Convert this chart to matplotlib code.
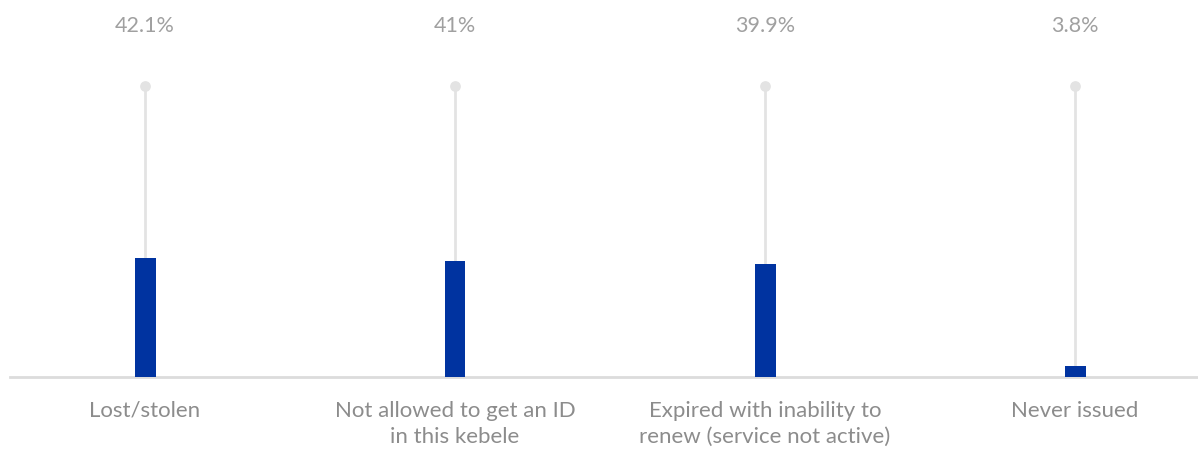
import matplotlib.pyplot as plt

plt.rcParams['font.family'] = ['Lato', 'DejaVu Sans']

categories = ['Lost/stolen', 'Not allowed to get an ID\nin this kebele',
              'Expired with inability to\nrenew (service not active)', 'Never issued']
values = [42.1, 41, 39.9, 3.8]
value_labels = ['42.1%', '41%', '39.9%', '3.8%']
stem_top = 103

fig = plt.figure(figsize=(11.98, 4.5), dpi=100)
ax = fig.add_axes([10 / 1198, (450 - 376.5) / 450, 1188 / 1198, 290.5 / 450])

x = list(range(len(categories)))
ax.vlines(x, 0, stem_top, color='#e3e3e3', lw=2, zorder=1)
ax.scatter(x, [stem_top] * len(x), s=45, color='#e3e3e3', zorder=2, clip_on=False)
ax.bar(x, values, width=21 / 310, color='#0033a0', zorder=3)

for xi, lab in zip(x, value_labels):
    ax.text(xi, 1.205, lab, transform=ax.get_xaxis_transform(), ha='center', va='center',
            fontsize=15.5, color='#a0a0a0')
for xi, cat in zip(x, categories):
    ax.text(xi, -0.083, cat, transform=ax.get_xaxis_transform(), ha='center', va='top',
            fontsize=16, color='#8c8c8c', linespacing=1.4)

ax.set_xlim(-135 / 310, 3 + 123 / 310)
ax.set_ylim(0, stem_top)
for s in ['top', 'right', 'left']:
    ax.spines[s].set_visible(False)
ax.spines['bottom'].set_color('#dcdcdc')
ax.spines['bottom'].set_linewidth(2)
ax.set_xticks([])
ax.set_yticks([])

fig.savefig('out.png', dpi=100)
